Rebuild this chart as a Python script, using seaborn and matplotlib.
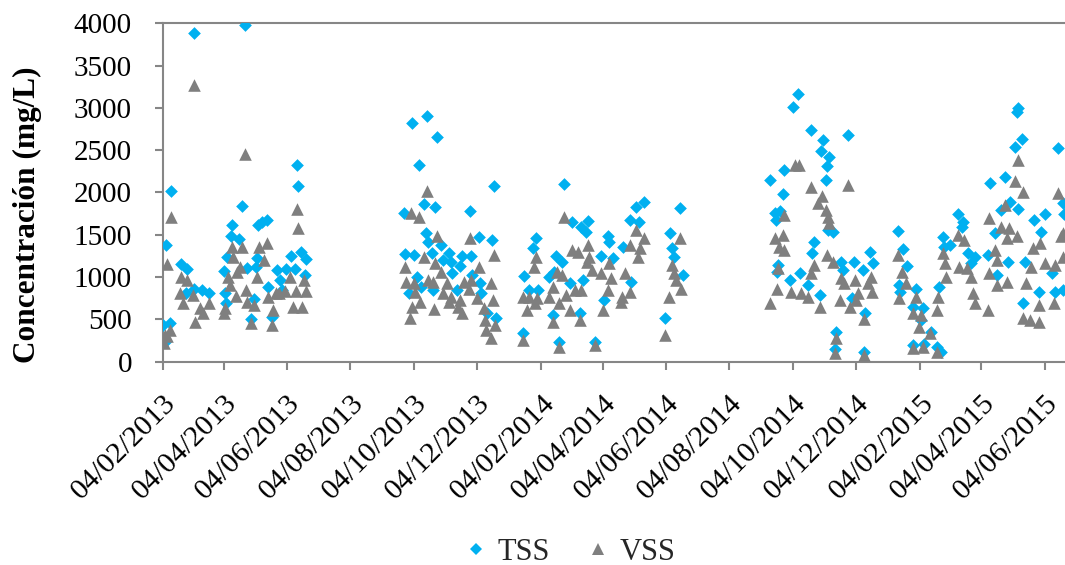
import matplotlib
matplotlib.use("Agg")
import matplotlib.pyplot as plt
import matplotlib.dates as mdates
from matplotlib.lines import Line2D
import seaborn as sns
import pandas as pd

# ---- data: sampling day (days after 04/02/2013) and concentration (mg/L) ----
start_date = "2013-02-04"

tss_day = [0, 3, 3, 7, 8, 18, 23, 24, 30, 30, 38, 45, 59, 60, 61, 62, 66, 67, 74, 77, 79, 81, 85, 88, 90, 91,
           92, 96, 101, 102, 105, 110, 113, 115, 119, 124, 128, 130, 131, 133, 137, 138,
           233, 234, 237, 240, 242, 245, 247, 249, 252, 254, 255, 256, 260, 261, 263, 264, 268, 270, 276,
           278, 279, 284, 287, 289, 296, 297, 298, 305, 306, 307, 313, 317, 319, 321,
           347, 348, 353, 357, 360, 362, 372, 376, 377, 379, 382, 385, 387, 393, 395, 402, 403, 405, 408,
           410, 417, 422, 425, 429, 430, 434, 444, 450, 451, 456, 459, 464, 484, 489, 491, 493, 499, 501,
           585, 590, 591, 592, 593, 595, 598, 599, 605, 607, 612, 614, 622, 625, 626, 628, 633, 634, 636,
           639, 640, 641, 642, 646, 648, 649, 654, 656, 660, 664, 666, 675, 676, 677, 682, 685,
           709, 710, 711, 713, 717, 723, 723, 726, 731, 733, 734, 740, 746, 748, 750, 752, 753, 759, 766,
           770, 771, 776, 779, 783, 795, 797, 802, 804, 808, 812, 815, 817, 821, 823, 824, 824, 828, 829,
           831, 840, 844, 846, 850, 857, 860, 863, 868, 868, 869]
tss_mgL = [430, 240, 1380, 460, 2020, 1160, 810, 1090, 3880, 855, 850, 815, 1075, 815, 690, 1240, 1480, 1615,
           1450, 1840, 3980, 1110, 500, 740, 1120, 1220, 1610, 1650, 1680, 880, 530, 1080, 965, 850, 1090,
           1250, 1100, 2320, 2080, 1300, 1025, 1210,
           1760, 1275, 815, 2820, 1260, 1005, 2320, 885, 1860, 1525, 2905, 1420, 1280, 845, 1830, 2660,
           1380, 1200, 1290, 1180, 1045, 845, 1135, 1250, 1780, 1250, 1025, 1470, 925, 810, 570, 1440,
           2080, 515,
           345, 1015, 845, 1340, 1460, 845, 1000, 550, 1065, 1250, 235, 1180, 2100, 925, 1655, 570, 1595,
           965, 1535, 1665, 235, 1250, 730, 1485, 1420, 1220, 1360, 1675, 945, 1830, 1655, 1885, 520,
           1525, 1340, 1240, 1820, 1025,
           2150, 1760, 1675, 1065, 1145, 1785, 1980, 2265, 965, 3015, 3165, 1045, 905, 2740, 1280, 1420,
           790, 2495, 2620, 2150, 2315, 1555, 2425, 1530, 145, 355, 1180, 1085, 2680, 750, 1180, 1085,
           120, 580, 1300, 1165,
           1545, 905, 825, 1330, 1130, 650, 195, 865, 495, 630, 215, 355, 175, 885, 120, 1470, 1360, 1380,
           1745, 1595, 1655, 1280, 1165, 1240, 1260, 2115, 1520, 1025, 1795, 2180, 1180, 1890, 2540, 2955,
           3000, 1800, 2630, 690, 1180, 1675, 825, 1535, 1740, 1045, 825, 2530, 1870, 850, 1750]

vss_day = [1, 2, 4, 4, 7, 8, 17, 18, 20, 24, 29, 30, 31, 36, 39, 45, 59, 60, 63, 65, 67, 68, 71, 72, 75, 77,
           79, 80, 81, 85, 88, 91, 93, 98, 101, 102, 105, 106, 109, 112, 118, 123, 126, 129, 130, 131, 134,
           136, 138,
           234, 235, 238, 239, 240, 242, 243, 247, 248, 252, 255, 256, 261, 262, 263, 264, 268, 270, 274,
           276, 278, 285, 287, 289, 290, 295, 296, 297, 303, 305, 310, 311, 312, 316, 316, 318, 319, 320,
           347, 347, 351, 353, 358, 359, 360, 361, 372, 376, 376, 380, 382, 382, 385, 387, 389, 393, 395,
           397, 400, 402, 403, 409, 410, 411, 414, 417, 422, 424, 429, 430, 432, 442, 443, 446, 450, 450,
           456, 458, 460, 464, 484, 488, 491, 493, 495, 499, 500,
           585, 590, 592, 593, 594, 598, 599, 599, 606, 609, 613, 615, 622, 625, 625, 628, 632, 633, 635,
           639, 640, 641, 642, 646, 648, 649, 653, 654, 657, 660, 662, 667, 668, 670, 676, 676, 680, 683, 684,
           709, 710, 712, 716, 723, 723, 726, 729, 731, 733, 739, 746, 746, 747, 752, 754, 755, 766, 767,
           772, 775, 779, 781, 783, 795, 796, 796, 802, 804, 804, 808, 812, 814, 814, 816, 821, 823, 824,
           829, 829, 832, 836, 837, 839, 844, 844, 845, 850, 859, 860, 863, 866, 868, 868]
vss_mgL = [220, 315, 300, 1160, 375, 1715, 810, 1005, 690, 965, 790, 3270, 475, 630, 570, 690, 570, 630, 1005,
           905, 1360, 1240, 775, 1060, 1120, 1360, 2460, 845, 710, 455, 670, 1005, 1360, 1200, 1400, 770,
           435, 610, 810, 810, 830, 1005, 650, 830, 1810, 1575, 650, 965, 830,
           1125, 945, 515, 1755, 650, 925, 825, 1705, 710, 1240, 2020, 965, 945, 620, 1170, 1480, 1065,
           810, 925, 710, 770, 650, 730, 570, 945, 865, 1460, 965, 750, 1115, 630, 495, 375, 925, 275,
           730, 1260, 435,
           770, 255, 610, 770, 1125, 690, 1240, 750, 770, 885, 475, 1065, 690, 175, 1025, 1715, 790, 610,
           1320, 845, 1300, 495, 845, 1180, 1380, 1240, 1085, 195, 1045, 610, 845, 1165, 985, 710, 770,
           1045, 1380, 825, 1555, 1240, 1340, 1460, 315, 770, 1145, 1045, 965, 1460, 865,
           690, 1460, 865, 1105, 1360, 1500, 1735, 1320, 825, 2325, 2325, 810, 770, 2070, 1045, 1145, 1870,
           650, 1960, 1795, 1260, 1715, 1635, 1180, 100, 275, 730, 985, 925, 2090, 650, 965, 730, 810, 500,
           80, 925, 1005, 825,
           1260, 750, 1065, 925, 570, 160, 770, 415, 550, 175, 345, 610, 120, 770, 1280, 1165, 1005, 1500,
           1125, 1440, 1105, 1005, 810, 690, 610, 1045, 1695, 1320, 1200, 905, 1595, 1850, 1460, 945, 1575,
           2130, 1480, 2385, 2010, 515, 925, 495, 1125, 1340, 670, 475, 1400, 1165, 690, 1145, 1990, 1480,
           1520, 1240]

series_names = ["TSS", "VSS"]
series_colors = ["#00B0F0", "#7F7F7F"]
y_ticks = [0, 500, 1000, 1500, 2000, 2500, 3000, 3500, 4000]
y_label = "Concentración (mg/L)"

# ---- build tables ----
t0 = pd.Timestamp(start_date)
df_tss = pd.DataFrame({"Fecha": t0 + pd.to_timedelta(tss_day, unit="D"), "Conc": tss_mgL})
df_vss = pd.DataFrame({"Fecha": t0 + pd.to_timedelta(vss_day, unit="D"), "Conc": vss_mgL})

sns.set_theme(style="white")
plt.rcParams["font.family"] = ["Liberation Serif", "DejaVu Serif"]
plt.rcParams["xtick.labelsize"] = 21
plt.rcParams["ytick.labelsize"] = 21

fig = plt.figure(figsize=(10.65, 5.65), dpi=100)
ax = fig.add_axes([0.1526, 0.3598, 0.8469, 0.5990])

sns.scatterplot(data=df_tss, x="Fecha", y="Conc", marker="D", s=42, color=series_colors[0],
                linewidth=0, ax=ax, legend=False, zorder=3)
sns.scatterplot(data=df_vss, x="Fecha", y="Conc", marker="^", s=82, color=series_colors[1],
                linewidth=0, ax=ax, legend=False, zorder=4)

ax.set_ylim(0, 4000)
ax.set_yticks(y_ticks)
ax.set_xlim(pd.Timestamp("2013-02-04"), pd.Timestamp("2015-06-23"))
ax.xaxis.set_major_locator(mdates.MonthLocator(bymonth=[2, 4, 6, 8, 10, 12], bymonthday=4))
ax.xaxis.set_major_formatter(mdates.DateFormatter("%d/%m/%Y"))

spine_col = "#868686"
for side in ["left", "bottom", "top"]:
    ax.spines[side].set_visible(True)
    ax.spines[side].set_color(spine_col)
    ax.spines[side].set_linewidth(1.5)
ax.spines["right"].set_visible(False)

ax.tick_params(axis="both", which="major", direction="out", length=6, width=1.5, color=spine_col,
               labelsize=21, labelcolor="black", top=False, right=False, left=True, bottom=True)
ax.tick_params(axis="y", pad=16)
ax.tick_params(axis="x", pad=14)
for lab in ax.get_xticklabels():
    lab.set_rotation(45)
    lab.set_ha("right")
    lab.set_va("top")
    lab.set_rotation_mode("anchor")
    lab.set_fontsize(21.5)
for lab in ax.get_yticklabels():
    lab.set_fontsize(21)

ax.set_xlabel("")
ax.set_ylabel(y_label, fontsize=22.5, fontweight="bold", color="black", va="center")
ax.yaxis.set_label_coords(-0.150, 0.434)
ax.grid(False)

handles = [Line2D([], [], marker="D", linestyle="none", markersize=6.5, markeredgewidth=0,
                  color=series_colors[0]),
           Line2D([], [], marker="^", linestyle="none", markersize=9, markeredgewidth=0,
                  color=series_colors[1])]
fig.legend(handles, series_names, loc="center", bbox_to_anchor=(568 / 1065, 1 - 552 / 565), ncol=2,
           frameon=False, fontsize=22, handletextpad=0.2, columnspacing=1.1, handlelength=1.0)

fig.savefig("out.png", dpi=100)
